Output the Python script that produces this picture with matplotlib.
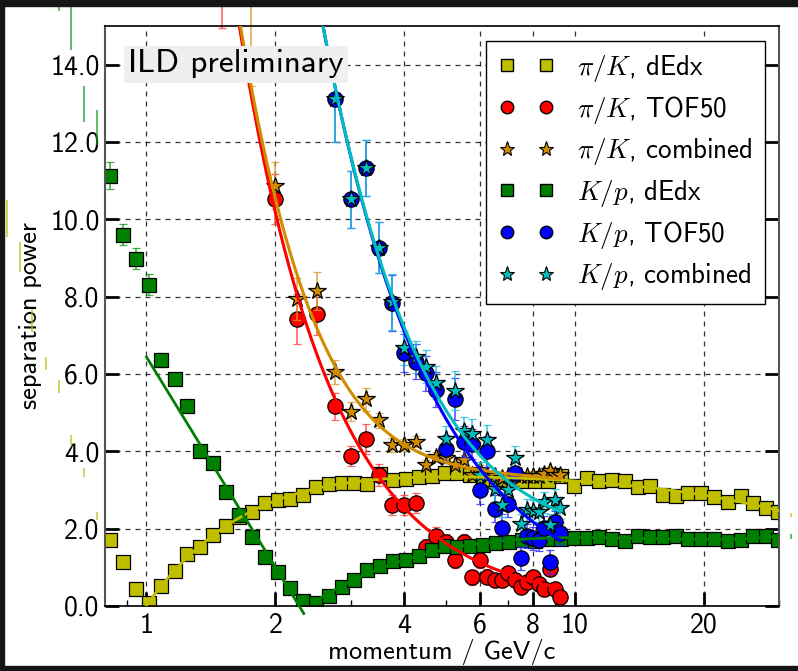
import numpy as np
import matplotlib
matplotlib.use('Agg')
import matplotlib.pyplot as plt
from matplotlib.lines import Line2D
from matplotlib.patches import Rectangle
from matplotlib.ticker import FixedLocator, FormatStrFormatter, NullFormatter, LogLocator

plt.rcParams['font.family'] = ['cmss10', 'DejaVu Sans']
plt.rcParams['mathtext.fontset'] = 'cm'
plt.rcParams['axes.unicode_minus'] = False
plt.rcParams['axes.formatter.use_mathtext'] = False

# ---------------- data ----------------
# dE/dx momentum grid (GeV/c)
p_dedx = [0.823, 0.880, 0.944, 1.015, 1.084, 1.165, 1.245, 1.336, 1.433, 1.531,
          1.645, 1.763, 1.887, 2.027, 2.167, 2.323, 2.489, 2.668, 2.859, 3.058,
          3.28, 3.51, 3.77, 4.04, 4.33, 4.64, 4.97, 5.32, 5.71, 6.12,
          6.54, 7.03, 7.53, 8.08, 8.65, 9.28, 9.97, 10.66, 11.41, 12.22,
          13.08, 14.02, 15.0, 16.05, 17.2, 18.4, 19.7, 21.1, 22.8, 24.4,
          26.1, 27.9, 29.9]
pik_dedx = [1.71, 1.13, 0.45, 0.09, 0.53, 0.91, 1.35, 1.52, 1.84, 2.08,
            2.31, 2.44, 2.66, 2.74, 2.76, 2.87, 3.08, 3.15, 3.18, 3.17,
            3.15, 3.42, 3.27, 3.28, 3.33, 3.35, 3.45, 3.44, 3.39, 3.26,
            3.28, 3.26, 3.24, 3.22, 3.24, 3.35, 3.10, 3.30, 3.22, 3.26,
            3.24, 3.09, 3.11, 2.87, 2.85, 2.92, 2.92, 2.81, 2.70, 2.85,
            2.66, 2.53, 2.42]
pik_dedx_err = [0.1] * 53
kp_dedx = [11.13, 9.60, 8.98, 8.31, 6.37, 5.87, 5.16, 4.00, 3.70, 2.94,
           2.36, 1.78, 1.26, 0.89, 0.46, 0.14, 0.09, 0.27, 0.50, 0.67,
           0.93, 1.04, 1.16, 1.19, 1.29, 1.45, 1.55, 1.53, 1.55, 1.57,
           1.64, 1.66, 1.71, 1.68, 1.73, 1.73, 1.77, 1.76, 1.78, 1.74,
           1.69, 1.81, 1.78, 1.78, 1.81, 1.74, 1.74, 1.73, 1.69, 1.71,
           1.81, 1.81, 1.71]
kp_dedx_err = [0.35, 0.27, 0.27, 0.27, 0.18, 0.15] + [0.1] * 47

# dE/dx points outside the x range (only their error bars show)
p_dedx_out_lo = [0.472, 0.507, 0.541, 0.582, 0.625, 0.666, 0.716, 0.767]
pik_dedx_out_lo = [10.03, 9.02, 7.38, 6.28, 5.68, 4.30, 3.46, 2.33]
pik_dedx_out_lo_err = [0.48, 0.39, 0.30, 0.17, 0.17, 0.13, 0.12, 0.10]
p_kp_out_lo = [0.625, 0.666, 0.716, 0.767]
kp_dedx_out_lo = [16.2, 14.97, 12.98, 12.38]
kp_dedx_out_lo_err = [0.8, 0.6, 0.46, 0.46]
p_dedx_out_hi = [32.0]
pik_dedx_out_hi = [2.35]
kp_dedx_out_hi = [1.79]
dedx_out_hi_err = [0.06]

# TOF momentum grid (GeV/c)
p_tof = [2.0, 2.25, 2.5, 2.75, 3.0, 3.25, 3.5, 3.75, 4.0, 4.25,
         4.5, 4.75, 5.0, 5.25, 5.5, 5.75, 6.0, 6.25, 6.5, 6.75,
         7.0, 7.25, 7.5, 7.75, 8.0, 8.25, 8.5, 8.75, 9.0, 9.25]
pik_tof = [10.52, 7.42, 7.55, 5.16, 3.89, 4.32, 3.39, 2.61, 2.61, 2.67,
           1.52, 1.82, 1.65, 1.19, 1.65, 0.74, 1.19, 0.76, 0.66, 0.67,
           0.85, 0.68, 0.50, 0.62, 0.76, 0.57, 0.43, 0.95, 0.45, 0.24]
pik_tof_err = [0.64, 0.64, 0.55, 0.35, 0.26, 0.39, 0.28, 0.26, 0.26, 0.26,
               0.22, 0.22, 0.20, 0.20, 0.20, 0.20, 0.20, 0.20, 0.18, 0.18,
               0.18, 0.18, 0.18, 0.18, 0.18, 0.18, 0.18, 0.18, 0.18, 0.18]
pik_comb = [10.87, 7.94, 8.15, 6.05, 5.03, 5.35, 4.80, 4.17, 4.16, 4.25,
            3.65, 3.86, 3.82, 3.64, 3.78, 3.39, 3.52, 3.37, 3.35, 3.30,
            3.35, 3.39, 3.35, 3.35, 3.36, 3.35, 3.41, 3.48, 3.39, 3.39]
pik_comb_err = [0.60, 0.55, 0.50, 0.30, 0.25, 0.30, 0.20, 0.18, 0.15, 0.15,
                0.13, 0.13, 0.12, 0.12, 0.12, 0.12, 0.12, 0.12, 0.12, 0.12,
                0.12, 0.12, 0.12, 0.12, 0.12, 0.12, 0.12, 0.12, 0.12, 0.12]
nan = float('nan')
kp_tof = [nan, nan, nan, 13.11, 10.52, 11.33, 9.26, 7.83, 6.54, 6.32,
          6.02, 5.59, 4.06, 5.35, 4.25, 4.19, 3.00, 4.00, 2.52, 2.03,
          2.65, 3.45, 1.23, 1.81, 1.75, 1.71, 2.03, 1.14, 2.16, 1.88]
kp_tof_err = [nan, nan, nan, 1.10, 0.74, 0.73, 0.66, 0.72, 0.50, 0.45,
              0.45, 0.45, 0.35, 0.55, 0.40, 0.40, 0.35, 0.40, 0.35, 0.35,
              0.35, 0.35, 0.30, 0.30, 0.30, 0.30, 0.30, 0.30, 0.30, 0.30]
kp_comb = [nan, nan, nan, 13.11, 10.52, 11.33, 9.26, 7.86, 6.67, 6.44,
           6.19, 5.78, 4.33, 5.57, 4.52, 4.46, 3.40, 4.30, 3.02, 2.62,
           3.00, 3.83, 2.11, 2.49, 2.45, 2.44, 2.68, 2.10, 2.75, 2.54]
kp_comb_err = [nan, nan, nan, 1.10, 0.74, 0.73, 0.66, 0.72, 0.45, 0.42,
               0.42, 0.42, 0.32, 0.50, 0.38, 0.38, 0.32, 0.38, 0.32, 0.32,
               0.32, 0.32, 0.28, 0.28, 0.28, 0.28, 0.28, 0.28, 0.28, 0.28]
# TOF points above the y range (only error bars show)
p_tof_out = [1.5]
pik_tof_out = [16.5]
pik_tof_out_err = [1.55]
p_comb_out = [1.75]
pik_comb_out = [15.9]
pik_comb_out_err = [2.45]

labels = [r'$\pi/K$, dEdx', r'$\pi/K$, TOF50', r'$\pi/K$, combined',
          r'$K/p$, dEdx', r'$K/p$, TOF50', r'$K/p$, combined']

# ---------------- style ----------------
c_y = (0.75, 0.75, 0.0)
c_g = (0.0, 0.5, 0.0)
c_r = (1.0, 0.0, 0.0)
c_o = (0.82, 0.55, 0.0)
c_b = (0.0, 0.0, 1.0)
c_c = (0.0, 0.75, 0.75)

W, H = 798, 671
fig = plt.figure(figsize=(W / 100, H / 100), dpi=100)
fig.patch.set_facecolor('white')
ax = fig.add_axes([105 / W, 1 - 606 / H, (779 - 105) / W, (606 - 26) / H])

def eb(x, y, e, fmt, col, ecol, ms, z=2, mew=0.9):
    cont = ax.errorbar(x, y, yerr=e, fmt=fmt, color=col, mfc=col, mec='k',
                       ms=ms, mew=mew, ecolor=ecol, elinewidth=1.2, capsize=3,
                       capthick=1.0, zorder=z)
    return cont

def eb_out(x, y, e, ecol, cap):
    cont = ax.errorbar(x, y, yerr=e, fmt='none', ecolor=ecol, elinewidth=1.2,
                       capsize=cap, capthick=1.0, zorder=2)
    for a in list(cont.lines[1]) + list(cont.lines[2]):
        a.set_clip_on(False)

e_y = (0.75, 0.75, 0.1, 0.8)
e_g = (0.1, 0.6, 0.1, 0.8)
e_r = (1.0, 0.25, 0.25, 0.8)
e_o = (0.85, 0.6, 0.15, 0.8)
e_b = (0.15, 0.15, 1.0, 0.8)
e_c = (0.1, 0.75, 0.85, 0.8)

eb(p_dedx, pik_dedx, pik_dedx_err, 's', c_y, e_y, 10)
eb(p_tof, pik_tof, pik_tof_err, 'o', c_r, e_r, 11)
eb(p_tof, pik_comb, pik_comb_err, '*', c_o, e_o, 13, z=2.1)
eb(p_dedx, kp_dedx, kp_dedx_err, 's', c_g, e_g, 10)
eb(p_tof, kp_tof, kp_tof_err, 'o', c_b, e_b, 11, z=2.2)
eb(p_tof, kp_comb, kp_comb_err, '*', c_c, e_c, 13, z=2.3)

eb_out(p_dedx_out_lo, pik_dedx_out_lo, pik_dedx_out_lo_err, e_y, 0)
eb_out(p_kp_out_lo, kp_dedx_out_lo, kp_dedx_out_lo_err, e_g, 0)
eb_out(p_dedx_out_hi, pik_dedx_out_hi, dedx_out_hi_err, e_y, 0)
eb_out(p_dedx_out_hi, kp_dedx_out_hi, dedx_out_hi_err, e_g, 0)
eb_out(p_tof_out, pik_tof_out, pik_tof_out_err, e_r, 3)
eb_out(p_comb_out, pik_comb_out, pik_comb_out_err, e_o, 3)

# ---------------- fits (least squares on the data) ----------------
a_p_dedx = np.array(p_dedx)
lp_dedx = np.log10(a_p_dedx)
a_pik_dedx = np.array(pik_dedx)
a_kp_dedx = np.array(kp_dedx)

sel_y = a_p_dedx >= 1.0
cy = np.polyfit(lp_dedx[sel_y], a_pik_dedx[sel_y], 5)
sel_glo = (a_p_dedx > 1.2) & (a_p_dedx < 2.4)
cglo = np.polyfit(lp_dedx[sel_glo], a_kp_dedx[sel_glo], 1)
sel_ghi = a_p_dedx > 2.4
cghi = np.polyfit(lp_dedx[sel_ghi], a_kp_dedx[sel_ghi], 3)

def powfit(p, y, e):
    p = np.array(p); y = np.array(y); e = np.array(e)
    m = np.isfinite(y)
    return np.polyfit(np.log(p[m]), np.log(y[m]), 1, w=y[m] / e[m])

cr = powfit(p_tof, pik_tof, pik_tof_err)
cb = powfit(p_tof, kp_tof, kp_tof_err)

pp = np.logspace(np.log10(1.0), np.log10(30.0), 300)
ax.plot(pp, np.polyval(cy, np.log10(pp)), color=c_y, lw=2.0, zorder=3)
pp = np.logspace(np.log10(1.0), np.log10(2.33), 100)
ax.plot(pp, np.polyval(cglo, np.log10(pp)), color=c_g, lw=2.0, zorder=3, clip_on=False)
pp = np.logspace(np.log10(2.45), np.log10(30.0), 300)
ax.plot(pp, np.polyval(cghi, np.log10(pp)), color=c_g, lw=2.0, zorder=3)

pp = np.logspace(np.log10(1.5), np.log10(9.25), 300)
red_fit = np.exp(np.polyval(cr, np.log(pp)))
ax.plot(pp, red_fit, color=c_r, lw=2.2, zorder=3)
ax.plot(pp, np.sqrt(red_fit ** 2 + np.polyval(cy, np.log10(pp)) ** 2),
        color=c_o, lw=2.2, zorder=3)
pp = np.logspace(np.log10(2.45), np.log10(9.25), 300)
blue_fit = np.exp(np.polyval(cb, np.log(pp)))
ax.plot(pp, blue_fit, color=c_b, lw=2.2, zorder=3.1)
ax.plot(pp, np.sqrt(blue_fit ** 2 + np.polyval(cghi, np.log10(pp)) ** 2),
        color=c_c, lw=2.2, zorder=3.2)

# ---------------- axes ----------------
ax.set_xscale('log')
ax.set_xlim(0.8, 30)
ax.set_ylim(0, 15)
ax.xaxis.set_major_locator(FixedLocator([1, 2, 4, 6, 8, 10, 20]))
ax.xaxis.set_major_formatter(FormatStrFormatter('%d'))
ax.xaxis.set_minor_locator(LogLocator(base=10, subs=(3, 5, 7, 9)))
ax.xaxis.set_minor_formatter(NullFormatter())
ax.yaxis.set_major_locator(FixedLocator([0, 2, 4, 6, 8, 10, 12, 14]))
ax.yaxis.set_major_formatter(FormatStrFormatter('%.1f'))
ax.tick_params(axis='both', which='major', direction='in', length=10, width=2,
               labelsize=20, color='k')
ax.tick_params(axis='x', which='minor', direction='in', length=4, width=1)
ax.tick_params(axis='y', which='both', left=True, right=True)
ax.tick_params(axis='x', which='major', pad=5)
ax.tick_params(axis='y', which='major', pad=4)
ax.grid(True, which='major', color='k', ls=(0, (4, 4)), lw=0.9, alpha=0.8)
ax.set_axisbelow(True)
for s in ['left', 'right']:
    ax.spines[s].set_color('#555555')
    ax.spines[s].set_linewidth(1.5)
for s in ['top', 'bottom']:
    ax.spines[s].set_color('k')
    ax.spines[s].set_linewidth(1.2)

ax.set_xlabel('momentum / GeV/c', fontsize=19, labelpad=1)
ax.set_ylabel('separation power', fontsize=19, labelpad=6)

handles = [
    Line2D([], [], ls='none', marker='s', mfc=c_y, mec='k', ms=8),
    Line2D([], [], ls='none', marker='o', mfc=c_r, mec='k', ms=9),
    Line2D([], [], ls='none', marker='*', mfc=c_o, mec='k', ms=11, mew=0.8),
    Line2D([], [], ls='none', marker='s', mfc=c_g, mec='k', ms=8),
    Line2D([], [], ls='none', marker='o', mfc=c_b, mec='k', ms=9),
    Line2D([], [], ls='none', marker='*', mfc=c_c, mec='k', ms=11, mew=0.8),
]
leg = ax.legend(handles, labels, loc='upper right', bbox_to_anchor=(0.979, 0.975),
                borderaxespad=0, numpoints=2, fontsize=19.5, fancybox=False,
                framealpha=1, edgecolor='k', labelspacing=0.38,
                handlelength=2.05, handletextpad=0.85, borderpad=0.45)
leg.get_frame().set_linewidth(1.0)
leg.set_zorder(5)

fig.text(128 / W, 1 - 64 / H, 'ILD preliminary', fontsize=24, ha='left', va='center',
         bbox=dict(facecolor='#efefef', edgecolor='none', pad=3), zorder=6)

# dark screenshot frame
dark = '#151515'
fig.patches.append(Rectangle((0, 1 - 6 / H), 1, 6 / H, transform=fig.transFigure,
                             color=dark, zorder=10))
fig.patches.append(Rectangle((0, 0), 4 / W, 1, transform=fig.transFigure,
                             color=dark, zorder=10))
fig.patches.append(Rectangle((0, 0), 1, 5 / H, transform=fig.transFigure,
                             color=dark, zorder=10))

fig.savefig('out.png', dpi=100, facecolor=fig.get_facecolor())
